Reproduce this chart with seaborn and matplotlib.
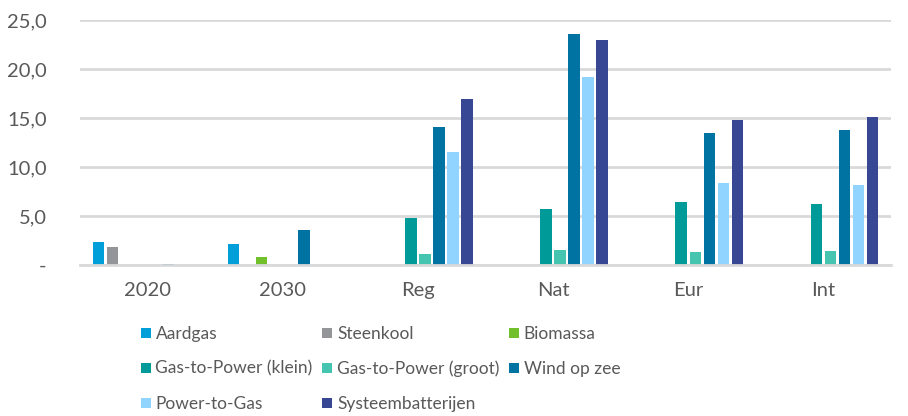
import matplotlib
matplotlib.use("Agg")
import matplotlib.pyplot as plt
from matplotlib.lines import Line2D
import seaborn as sns
import pandas as pd

categories = ["2020", "2030", "Reg", "Nat", "Eur", "Int"]
series = ["Aardgas", "Steenkool", "Biomassa", "Gas-to-Power (klein)",
          "Gas-to-Power (groot)", "Wind op zee", "Power-to-Gas", "Systeembatterijen"]

aardgas = [2.3, 2.1, 0.0, 0.0, 0.0, 0.0]
steenkool = [1.85, 0.0, 0.0, 0.0, 0.0, 0.0]
biomassa = [0.0, 0.8, 0.0, 0.0, 0.0, 0.0]
gtp_klein = [0.0, 0.0, 4.8, 5.7, 6.4, 6.25]
gtp_groot = [0.0, 0.0, 1.15, 1.5, 1.35, 1.45]
wind_op_zee = [0.1, 3.55, 14.1, 23.55, 13.45, 13.8]
power_to_gas = [0.0, 0.0, 11.55, 19.15, 8.35, 8.15]
systeembatterijen = [0.0, 0.0, 16.95, 23.0, 14.8, 15.1]

colors = ["#009FDA", "#939598", "#72BF2C", "#009B98",
          "#45C4B0", "#0073A3", "#91D4FF", "#374793"]

values = [aardgas, steenkool, biomassa, gtp_klein, gtp_groot,
          wind_op_zee, power_to_gas, systeembatterijen]
rows = []
for name, vals in zip(series, values):
    for cat, v in zip(categories, vals):
        rows.append({"categorie": cat, "bron": name, "waarde": v})
df = pd.DataFrame(rows)

sns.set_style("white")
plt.rcParams["font.family"] = ["Lato", "DejaVu Sans"]
text_color = "#595959"
grid_color = "#D9D9D9"

fig = plt.figure(figsize=(9.08, 4.16), dpi=100)
ax = fig.add_axes([80 / 908, 1 - 265 / 416, (891 - 80) / 908, (265 - 20) / 416])

sns.barplot(data=df, x="categorie", y="waarde", hue="bron",
            order=categories, hue_order=series, palette=colors,
            saturation=1, width=0.83, gap=0.18, linewidth=0,
            errorbar=None, legend=False, ax=ax)

ax.set_ylim(0, 25)
ax.set_xlim(-0.5, len(categories) - 0.5)
ax.set_yticks([0, 5, 10, 15, 20, 25])
ax.set_yticklabels(["-", "5,0", "10,0", "15,0", "20,0", "25,0"])
ax.yaxis.grid(True, color=grid_color, linewidth=2)
ax.set_axisbelow(True)
for s in ["top", "right", "left"]:
    ax.spines[s].set_visible(False)
ax.spines["bottom"].set_color(grid_color)
ax.spines["bottom"].set_linewidth(2)
ax.tick_params(axis="both", length=0, labelsize=14.5, colors=text_color)
ax.tick_params(axis="y", pad=24)
ax.tick_params(axis="x", pad=12)
ax.set_xlabel("")
ax.set_ylabel("")

# legend: square swatches, three columns read row by row
order = [0, 3, 6, 1, 4, 7, 2, 5]
handles = [Line2D([], [], marker="s", linestyle="none", markersize=7,
                  markerfacecolor=colors[i], markeredgewidth=0) for i in order]
labels = [series[i] for i in order]
leg = fig.legend(handles, labels,
                 ncol=3, loc="upper left", bbox_to_anchor=(139 / 908, 1 - 326 / 416),
                 frameon=False, fontsize=12.5, handlelength=0.75,
                 handletextpad=0.2, columnspacing=0.45, labelspacing=1.08,
                 borderaxespad=0, borderpad=0)
for t in leg.get_texts():
    t.set_color(text_color)

fig.savefig("out.png", dpi=100)
